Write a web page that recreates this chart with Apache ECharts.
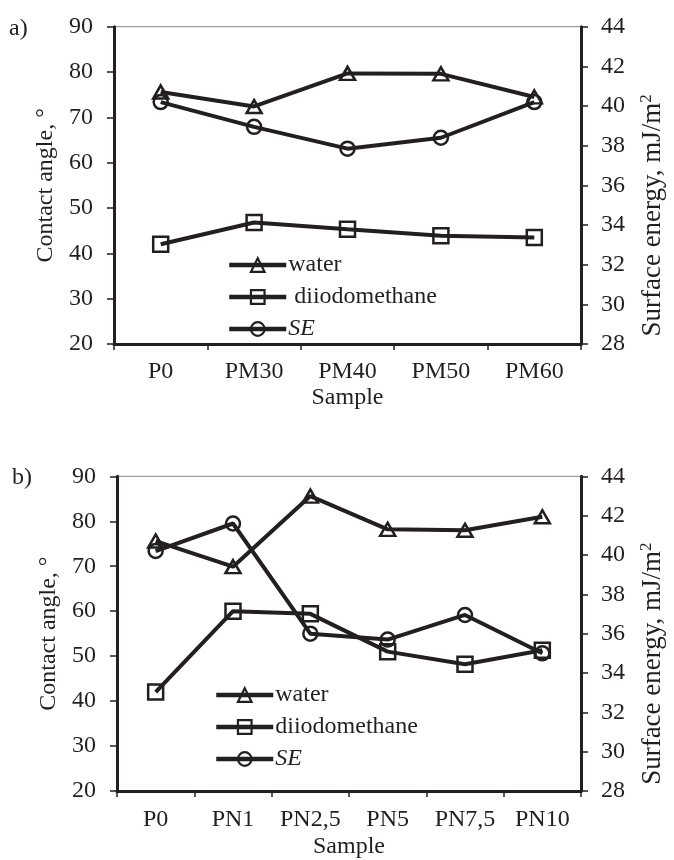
<!DOCTYPE html>
<html>
<head>
<meta charset="utf-8">
<script src="https://cdn.jsdelivr.net/npm/echarts@6/dist/echarts.min.js"></script>
<style>
  html, body { margin: 0; padding: 0; background: #fff; }
  #chart { width: 674px; height: 860px; }
</style>
</head>
<body>
<div id="chart"></div>
<script>
  // panel a)
  let samplesA = ['P0', 'PM30', 'PM40', 'PM50', 'PM60']
  let waterA = [75.6, 72.4, 79.7, 79.6, 74.5]
  let diiodoA = [42.0, 46.8, 45.3, 43.9, 43.5]
  let seA = [40.2, 38.95, 37.85, 38.4, 40.2]

  // panel b)
  let samplesB = ['P0', 'PN1', 'PN2,5', 'PN5', 'PN7,5', 'PN10']
  let waterB = [75.6, 69.9, 85.6, 78.2, 78.0, 81.0]
  let diiodoB = [42.0, 60.0, 59.4, 51.0, 48.2, 51.3]
  let seB = [40.2, 41.6, 36.0, 35.7, 36.95, 35.0]

  let ink = '#231f20'
  let font = 'Liberation Serif'

  let chart = echarts.init(document.getElementById('chart'))

  function xAxis (grid, data, gap, margin) {
    return {
      type: 'category',
      gridIndex: grid,
      data: data,
      boundaryGap: true,
      name: 'Sample',
      nameLocation: 'middle',
      nameGap: gap,
      nameTextStyle: { color: ink, fontFamily: font, fontSize: 24 },
      axisLine: { lineStyle: { color: ink, width: 3 } },
      axisTick: { show: true, length: 6, lineStyle: { color: ink, width: 1.5 } },
      axisLabel: { color: ink, fontFamily: font, fontSize: 24, margin: margin, interval: 0, hideOverlap: false },
      splitLine: { show: false }
    }
  }

  function leftAxis (grid) {
    return {
      type: 'value',
      gridIndex: grid,
      position: 'left',
      min: 20,
      max: 90,
      interval: 10,
      name: 'Contact angle, °',
      nameLocation: 'middle',
      nameGap: 52,
      nameTextStyle: { color: ink, fontFamily: font, fontSize: 24 },
      axisLine: { show: true, lineStyle: { color: ink, width: 3 } },
      axisTick: { show: true, length: 7, lineStyle: { color: ink, width: 1.5 } },
      axisLabel: { color: ink, fontFamily: font, fontSize: 24, margin: 21 },
      splitLine: { show: false }
    }
  }

  function rightAxis (grid) {
    return {
      type: 'value',
      gridIndex: grid,
      position: 'right',
      min: 28,
      max: 44,
      interval: 2,
      name: 'Surface energy, mJ/m{sup|2}',
      nameLocation: 'middle',
      nameGap: 57,
      nameTextStyle: {
        color: ink,
        fontFamily: font,
        fontSize: 27,
        padding: [0, 60, 0, 0],
        rich: {
          sup: { fontFamily: font, fontSize: 17, color: ink, verticalAlign: 'top', padding: [0, 0, 12, 0] }
        }
      },
      axisLine: { show: true, lineStyle: { color: ink, width: 3 } },
      axisTick: { show: true, length: 7, lineStyle: { color: ink, width: 1.5 } },
      axisLabel: { color: ink, fontFamily: font, fontSize: 24, margin: 20 },
      splitLine: { show: false }
    }
  }

  function line (name, symbol, size, xi, yi, data) {
    return {
      name: name,
      type: 'line',
      xAxisIndex: xi,
      yAxisIndex: yi,
      data: data,
      symbol: symbol,
      symbolSize: size,
      showAllSymbol: true,
      animation: false,
      lineStyle: { color: ink, width: 4 },
      itemStyle: { color: 'rgba(0,0,0,0)', borderColor: ink, borderWidth: 2.5 }
    }
  }

  function legend (left, top, diiName) {
    return {
      orient: 'vertical',
      left: left,
      top: top,
      itemWidth: 57,
      itemHeight: 17,
      itemGap: 8,
      data: ['water', 'diiodomethane', 'SE'],
      lineStyle: { width: 4.5, color: ink },
      itemStyle: { borderWidth: 2.2, borderColor: ink, color: 'rgba(0,0,0,0)' },
      textStyle: {
        color: ink,
        fontFamily: font,
        fontSize: 24,
        lineHeight: 24,
        padding: [0, 0, 0, -3],
        rich: { i: { fontFamily: font, fontSize: 24, fontStyle: 'italic', color: ink } }
      },
      formatter: function (n) {
        if (n === 'SE') return '{i|SE}'
        if (n === 'diiodomethane') return diiName
        return n
      }
    }
  }

  let option = {
    backgroundColor: '#fff',
    animation: false,
    title: [
      { text: 'a)', left: 9, top: 17, textStyle: { color: ink, fontFamily: font, fontSize: 24, fontWeight: 'normal' }, padding: 0 },
      { text: 'b)', left: 12, top: 466, textStyle: { color: ink, fontFamily: font, fontSize: 24, fontWeight: 'normal' }, padding: 0 }
    ],
    grid: [
      { left: 114, right: 82, top: 26.7, height: 317.3, show: true, borderColor: '#888', borderWidth: 1, backgroundColor: 'transparent' },
      { left: 117, right: 81, top: 476.3, height: 317.3, show: true, borderColor: '#888', borderWidth: 1, backgroundColor: 'transparent' }
    ],
    xAxis: [
      xAxis(0, samplesA, 42, 16),
      xAxis(1, samplesB, 44, 17)
    ],
    yAxis: [
      leftAxis(0),
      rightAxis(0),
      leftAxis(1),
      rightAxis(1)
    ],
    legend: [
      legend(222, 248, ' diiodomethane'),
      legend(209, 678, 'diiodomethane')
    ],
    series: [
      line('water', 'triangle', [15, 13], 0, 0, waterA),
      line('diiodomethane', 'rect', 15, 0, 0, diiodoA),
      line('SE', 'circle', 14, 0, 1, seA),
      line('water', 'triangle', [15, 13], 1, 2, waterB),
      line('diiodomethane', 'rect', 15, 1, 2, diiodoB),
      line('SE', 'circle', 14, 1, 3, seB)
    ]
  }

  chart.setOption(option)
</script>
</body>
</html>
